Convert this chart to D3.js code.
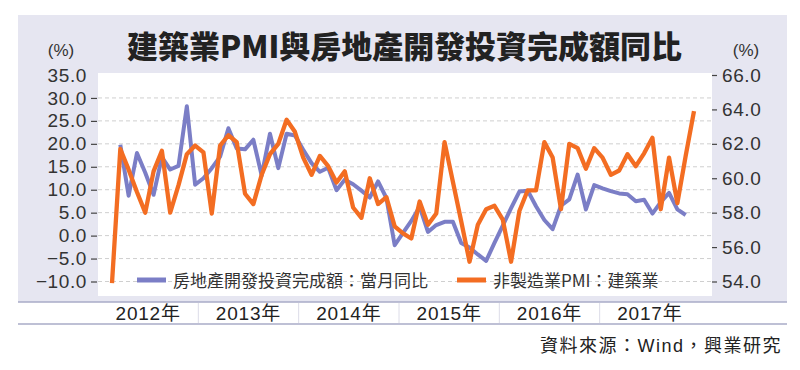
<!DOCTYPE html>
<html>
<head>
<meta charset="utf-8">
<script src="https://cdn.jsdelivr.net/npm/d3@7"></script>
<style>
  body { margin: 0; background: #fff; }
  svg { display: block; font-family: "Liberation Sans", Arial, "Noto Sans CJK TC", sans-serif; }
</style>
</head>
<body>
<svg id="chart" width="800" height="370"></svg>
<script>
// month index 0 = 2012-01, last = 2017-11
const months = d3.timeMonth.range(new Date(2012, 0, 1), new Date(2017, 11, 1))
const years = ['2012年', '2013年', '2014年', '2015年', '2016年', '2017年']

// 房地產開發投資完成額：當月同比 (left axis, %), starts Feb 2012
const investYoY = [null,
  19.8, 8.7, 18.0, 13.7, 8.9, 17.1, 14.4, 15.2, 28.2, 11.1, 12.5,
  14.7, 17.2, 23.4, 19.0, 18.8, 20.9, 13.1, 22.2, 14.7, 22.2, 21.8, 18.7,
  15.8, 13.9, 14.8, 9.9, 12.2, 11.2, 9.8, 8.3, 11.8, 8.2, -2.1, 0.6,
  3.2, 6.3, 0.8, 2.3, 3.0, 3.0, -1.6, -2.6, -4.1, -5.5, -1.6, 2.2,
  6.0, 9.6, 9.8, 6.4, 3.4, 1.4, 6.5, 7.9, 13.3, 5.7, 11.0, 10.3,
  9.7, 9.2, 9.0, 7.5, 7.8, 4.8, 7.3, 9.3, 5.7, 4.5]

// 非製造業PMI：建築業 (right axis)
const constructionPMI = [
  53.9, 61.7, 60.5, 59.2, 58.0, 60.4, 61.6, 58.0, 59.6, 61.4, 61.9, 61.5,
  57.95, 61.9, 62.5, 62.1, 59.1, 58.5, 60.2, 61.4, 62.0, 63.4, 62.7, 61.2,
  60.2, 61.3, 60.7, 59.75, 60.4, 58.3, 57.7, 60.0, 58.5, 58.9, 57.2, 56.8,
  56.5, 58.65, 57.3, 57.95, 62.1, 59.8, 57.5, 55.15, 57.3, 58.2, 58.4, 57.6,
  55.15, 58.1, 59.3, 59.3, 62.1, 61.2, 58.2, 62.0, 61.75, 60.55, 61.75, 61.2,
  60.2, 60.45, 61.4, 60.7, 61.45, 62.35, 58.2, 61.2, 58.55, 61.3, 63.9]

const leftTicks = [-10, -5, 0, 5, 10, 15, 20, 25, 30, 35]
const rightTicks = [54, 56, 58, 60, 62, 64, 66]

const svg = d3.select('#chart')
const plot = { left: 98, right: 712, top: 73, bottom: 296 }

const x = d3.scaleLinear().domain([0, 70]).range([112, 694])
const yL = d3.scaleLinear().domain([-10, 35]).range([281.5, 75])
const yR = d3.scaleLinear().domain([54, 66]).range([281.5, 75])
const xYear = d3.scaleBand().domain(years).range([98, 700])

// lavender panel
svg.append('rect').attr('x', 18).attr('y', 15).attr('width', 769).attr('height', 287).attr('fill', '#e6e6f1')
// plot area
svg.append('rect').attr('x', plot.left).attr('y', plot.top)
  .attr('width', plot.right - plot.left).attr('height', plot.bottom - plot.top).attr('fill', '#fff')

// title
svg.append('text')
  .attr('x', 127).attr('y', 58)
  .attr('textLength', 555).attr('lengthAdjust', 'spacingAndGlyphs')
  .style('font-family', '"Noto Sans CJK TC", "Noto Sans CJK SC", sans-serif')
  .style('font-weight', 900).style('font-size', '31px').attr('fill', '#222')
  .text('建築業PMI與房地產開發投資完成額同比')

svg.append('text').attr('x', 61).attr('y', 56).attr('text-anchor', 'middle')
  .style('font-size', '17px').attr('fill', '#333').text('(%)')
svg.append('text').attr('x', 746).attr('y', 56).attr('text-anchor', 'middle')
  .style('font-size', '17px').attr('fill', '#333').text('(%)')

// gridlines
svg.append('g').selectAll('line')
  .data(leftTicks.filter(d => d < 35))
  .join('line')
  .attr('x1', plot.left).attr('x2', plot.right)
  .attr('y1', d => yL(d)).attr('y2', d => yL(d))
  .attr('stroke', '#cfcfcf').attr('stroke-width', 1).attr('stroke-dasharray', '4,3')

// left axis
const fmt = d3.format('.1f')
const gl = svg.append('g').attr('transform', 'translate(97,0)')
  .call(d3.axisLeft(yL).tickValues(leftTicks).tickFormat(fmt).tickSize(6).tickPadding(4))
gl.select('.domain').remove()
gl.selectAll('.tick line').attr('stroke', '#444').attr('stroke-width', 1.2)
  .filter(d => d === 35).remove()
gl.selectAll('.tick text').style('font-size', '19px').style('letter-spacing', '0.6px')
  .attr('fill', '#333').attr('font-family', null)

// right axis
const gr = svg.append('g').attr('transform', 'translate(712,0)')
  .call(d3.axisRight(yR).tickValues(rightTicks).tickFormat(fmt).tickSize(5).tickPadding(5))
gr.select('.domain').remove()
gr.selectAll('.tick line').attr('stroke', '#444').attr('stroke-width', 1.2)
gr.selectAll('.tick text').style('font-size', '19px').style('letter-spacing', '0.6px')
  .attr('fill', '#333').attr('font-family', null)

// series
const lineL = d3.line().defined(d => d != null).x((d, i) => x(i)).y(d => yL(d))
const lineR = d3.line().defined(d => d != null).x((d, i) => x(i)).y(d => yR(d))

svg.append('path').datum(investYoY).attr('d', lineL)
  .attr('fill', 'none').attr('stroke', '#7b7ec6').attr('stroke-width', 4).attr('stroke-linejoin', 'round')
svg.append('path').datum(constructionPMI).attr('d', lineR)
  .attr('fill', 'none').attr('stroke', '#f36d22').attr('stroke-width', 4.3).attr('stroke-linejoin', 'round')

// legend
const legend = [
  { label: '房地產開發投資完成額：當月同比', color: '#7b7ec6', x: 137 },
  { label: '非製造業PMI：建築業', color: '#f36d22', x: 457 }
]
const lg = svg.append('g').selectAll('g').data(legend).join('g')
  .attr('transform', d => `translate(${d.x},280)`)
lg.append('line').attr('x1', 0).attr('x2', 29).attr('stroke', d => d.color).attr('stroke-width', 5)
lg.append('text').attr('x', 36).attr('y', 6.5)
  .style('font-family', '"Noto Sans CJK TC", sans-serif').style('font-size', '17px')
  .attr('fill', '#333').text(d => d.label)

// year band below the plot
svg.append('line').attr('x1', 18).attr('x2', 787).attr('y1', 302).attr('y2', 302)
  .attr('stroke', '#a9abc7').attr('stroke-width', 1.5)
svg.append('line').attr('x1', 18).attr('x2', 787).attr('y1', 324).attr('y2', 324)
  .attr('stroke', '#a9abc7').attr('stroke-width', 1.5)
svg.append('g').selectAll('line').data(years.slice(1)).join('line')
  .attr('x1', d => xYear(d)).attr('x2', d => xYear(d))
  .attr('y1', 303).attr('y2', 323).attr('stroke', '#dcdce8').attr('stroke-width', 1)
svg.append('g').selectAll('text').data(years).join('text')
  .attr('x', d => xYear(d) + xYear.bandwidth() / 2).attr('y', 320)
  .attr('text-anchor', 'middle')
  .style('font-size', '19px').style('letter-spacing', '0.8px').attr('fill', '#222')
  .text(d => d)

// source
svg.append('text').attr('x', 782).attr('y', 352).attr('text-anchor', 'end')
  .style('font-size', '18px').style('letter-spacing', '1.5px').attr('fill', '#222')
  .text('資料來源：Wind，興業研究')
</script>
</body>
</html>
